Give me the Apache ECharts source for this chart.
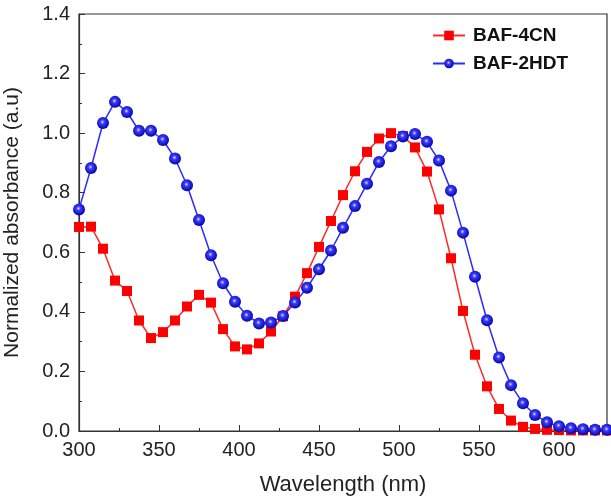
<!DOCTYPE html>
<html>
<head>
<meta charset="utf-8">
<script src="https://cdn.jsdelivr.net/npm/echarts@6/dist/echarts.min.js"></script>
<style>
html,body{margin:0;padding:0;background:#fff;}
#chart{width:611px;height:496px;}
</style>
</head>
<body>
<div id="chart"></div>
<script>
var wavelength = [300,307.5,315,322.5,330,337.5,345,352.5,360,367.5,375,382.5,390,397.5,405,412.5,420,427.5,435,442.5,450,457.5,465,472.5,480,487.5,495,502.5,510,517.5,525,532.5,540,547.5,555,562.5,570,577.5,585,592.5,600,607.5,615,622.5,630];
var baf4cn = [0.685,0.686,0.612,0.505,0.47,0.371,0.312,0.332,0.371,0.418,0.457,0.431,0.342,0.284,0.274,0.294,0.334,0.385,0.451,0.53,0.618,0.705,0.792,0.872,0.937,0.982,1.0,0.99,0.952,0.871,0.744,0.58,0.403,0.256,0.15,0.074,0.035,0.014,0.007,0.004,0.003,0.002,0.002,0.002,0.002];
var baf2hdt = [0.744,0.883,1.034,1.105,1.071,1.008,1.008,0.977,0.915,0.825,0.708,0.59,0.496,0.434,0.387,0.361,0.364,0.386,0.431,0.481,0.543,0.606,0.682,0.755,0.83,0.903,0.956,0.989,0.997,0.971,0.908,0.807,0.666,0.518,0.372,0.247,0.154,0.093,0.054,0.029,0.016,0.009,0.006,0.004,0.004];
var legendNames = ['BAF-4CN','BAF-2HDT'];

var fontFam = "'Liberation Sans', Arial, sans-serif";

function pairs(xs, ys){
    var out = [];
    for (var i = 0; i < xs.length; i++) out.push([xs[i], ys[i]]);
    return out;
}

var chart = echarts.init(document.getElementById('chart'));
var option = {
    backgroundColor: '#fff',
    animation: false,
    grid: {
        left: 79, right: 4, top: 14, bottom: 65,
        outerBoundsMode: 'none',
        containLabel: false,
        show: true,
        borderColor: '#333',
        borderWidth: 1.2
    },
    legend: {
        data: legendNames,
        orient: 'vertical',
        left: 432,
        top: 26,
        padding: 0,
        itemWidth: 32,
        itemHeight: 12,
        itemGap: 9,
        textStyle: {
            fontFamily: fontFam,
            fontSize: 19,
            fontWeight: 'bold',
            color: '#111',
            padding: [0, 0, 0, 3]
        }
    },
    xAxis: {
        type: 'value',
        min: 300,
        max: 630,
        interval: 50,
        name: 'Wavelength (nm)',
        nameLocation: 'middle',
        nameGap: 43,
        nameTextStyle: {fontFamily: fontFam, fontSize: 22, color: '#222'},
        axisLine: {lineStyle: {color: '#333', width: 1.2}},
        axisTick: {inside: true, length: 6, lineStyle: {color: '#333'}},
        minorTick: {show: true, splitNumber: 2, length: 3, lineStyle: {color: '#333'}},
        splitLine: {show: false},
        axisLabel: {
            fontFamily: fontFam, fontSize: 20, color: '#222', margin: 9,
            showMaxLabel: false
        }
    },
    yAxis: {
        type: 'value',
        min: 0,
        max: 1.4,
        interval: 0.2,
        name: 'Normalized absorbance (a.u)',
        nameLocation: 'middle',
        nameGap: 56,
        nameTextStyle: {fontFamily: fontFam, fontSize: 21, color: '#222'},
        axisLine: {show: true, lineStyle: {color: '#333', width: 1.2}},
        axisTick: {show: true, inside: true, length: 6, lineStyle: {color: '#333'}},
        minorTick: {show: true, splitNumber: 2, length: 3, lineStyle: {color: '#333'}},
        splitLine: {show: false},
        axisLabel: {
            fontFamily: fontFam, fontSize: 20, color: '#222', margin: 9,
            formatter: function(v){ return v.toFixed(1); }
        }
    },
    series: [
        {
            name: legendNames[0],
            type: 'line',
            data: pairs(wavelength, baf4cn),
            symbol: 'rect',
            symbolSize: 10,
            clip: false,
            itemStyle: {color: '#ff0000'},
            lineStyle: {color: '#ff2a2a', width: 1.5}
        },
        {
            name: legendNames[1],
            type: 'line',
            data: pairs(wavelength, baf2hdt),
            symbol: 'circle',
            symbolSize: 12,
            clip: false,
            itemStyle: {
                color: {
                    type: 'radial', x: 0.45, y: 0.42, r: 0.6,
                    colorStops: [
                        {offset: 0, color: '#dcdcff'},
                        {offset: 0.3, color: '#3a3aff'},
                        {offset: 1, color: '#0000a0'}
                    ]
                }
            },
            lineStyle: {color: '#2a2aff', width: 1.5}
        }
    ]
};
chart.setOption(option);
window.onresize = chart.resize;
</script>
</body>
</html>
